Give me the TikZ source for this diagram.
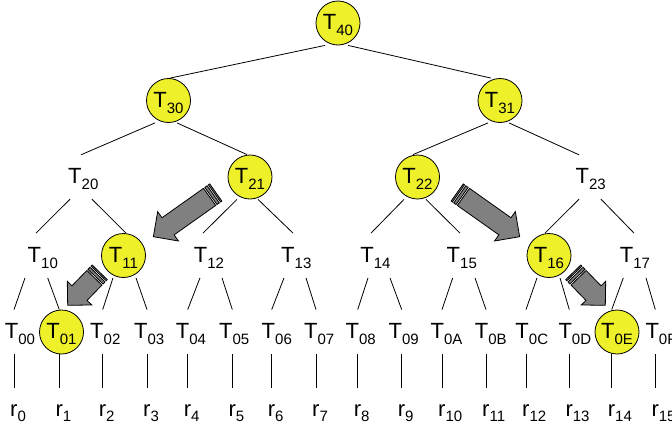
\documentclass[tikz,border=0pt]{standalone}
\usepackage{fontspec}
\setmainfont{Liberation Sans}
\definecolor{nodeyellow}{RGB}{238,240,42}
\definecolor{arrowgray}{RGB}{128,128,128}
\newcommand{\tsb}[1]{T\raisebox{-6pt}{\fontsize{15}{15}\selectfont #1}}
\newcommand{\rsb}[1]{r\raisebox{-5pt}{\fontsize{15}{15}\selectfont #1}}
% striped block arrow: tail x, tail y, angle, length, head width, head length
\newcommand{\sarrow}[6]{%
  \begin{scope}[shift={(#1,#2)}, rotate=#3]
    \filldraw[arrowbox] (0,-10.5) rectangle (1.6,10.5);
    \filldraw[arrowbox] (3.2,-10.5) rectangle (6,10.5);
    \filldraw[arrowbox] (7.6,-10.5) -- ({#4-#6},-10.5) -- ({#4-#6},{-#5/2})
      -- (#4,0) -- ({#4-#6},{#5/2}) -- ({#4-#6},10.5) -- (7.6,10.5) -- cycle;
  \end{scope}}
\tikzset{
  tnode/.style={circle, minimum size=44pt, inner sep=0pt, text height=13pt,
    text depth=0pt, font=\fontsize{22}{22}\selectfont},
  hlnode/.style={tnode, draw=black, line width=0.8pt, fill=nodeyellow},
  edge/.style={line width=0.8pt, black},
  arrowbox/.style={fill=arrowgray, draw=black, line width=0.8pt, line join=miter},
  rlabel/.style={anchor=base west, inner sep=0pt, font=\fontsize{22}{22}\selectfont}
}
\begin{document}
\begin{tikzpicture}[x=1pt, y=-1pt]
\useasboundingbox (0,0) rectangle (672,434);
% upper levels
\node[hlnode] (T40) at (338,23) {\tsb{40}};
\node[hlnode] (T30) at (168.5,100.5) {\tsb{30}};
\node[hlnode] (T31) at (500,100.5) {\tsb{31}};
\node[tnode] (T20) at (83.3,177) {\tsb{20}};
\node[hlnode] (T21) at (250,177) {\tsb{21}};
\node[hlnode] (T22) at (417.5,177) {\tsb{22}};
\node[tnode] (T23) at (590.7,177) {\tsb{23}};
% level 1
\foreach \n/\x/\f/\d in {10/42.8/none/none, 11/123.5/nodeyellow/black,
  12/209/none/none, 13/296.3/none/none, 14/375.5/none/none,
  15/461.8/none/none, 16/549/nodeyellow/black, 17/635/none/none}
  \node[tnode, fill=\f, draw=\d, line width=0.8pt] (T\n) at (\x,255.5) {\tsb{\n}};
% leaves, verticals and r labels
\foreach \n/\x/\v/\r/\f/\d in {00/20/14/0/none/none, 01/61.5/59.3/1/nodeyellow/black,
  02/105.3/102.7/2/none/none, 03/149.2/147/3/none/none, 04/191/187.7/4/none/none,
  05/234.2/232.3/5/none/none, 06/276.8/271.7/6/none/none, 07/319.2/316/7/none/none,
  08/360.7/357.7/8/none/none, 09/403.7/401.7/9/none/none, 0A/446.5/442/10/none/none,
  0B/490.7/486/11/none/none, 0C/531.8/526/12/none/none, 0D/574.8/569.3/13/none/none,
  0E/617/611.7/14/nodeyellow/black, 0F/661/655.3/15/none/none}
{
  \node[tnode, fill=\f, draw=\d, line width=0.8pt] (T\n) at (\x,332) {\tsb{\n}};
  \coordinate (v\n) at (\v,388);
  \node[rlabel] (r\n) at (\v-4,416.7) {\rsb{\r}};
  \draw[edge] (v\n |- T\n.south) -- (v\n);
}
% upper edges
\foreach \p/\a/\c/\b in {40/-13/30/1.5, 40/10/31/-9,
  30/-13.5/20/-2.3, 30/8.5/21/-3, 31/-12/22/-4.5, 31/9/23/-11.7,
  20/-13.3/10/-6.8, 20/8.7/11/2.5, 21/-13/12/-6, 21/8/13/-3.3,
  22/-13.5/14/-4.5, 22/8.5/15/-1.8, 23/-11.7/16/-4, 23/10.3/17/-1}
  \draw[edge] ([xshift=\a pt]T\p.south) -- ([xshift=\b pt]T\c.north);
% level 1 -> leaves
\foreach \p/\a/\c in {10/-17.8/00, 10/4.9/01, 11/-10.5/02, 11/12.5/03,
  12/-9/04, 12/13/05, 13/-12.3/06, 13/9.7/07, 14/-7.5/08, 14/14.5/09,
  15/-9.1/0A, 15/13.2/0B, 16/-12/0C, 16/11/0D, 17/-11.7/0E, 17/11/0F}
  \draw[edge] ([xshift=\a pt]T\p.south) -- (v\c |- T\c.north);
% striped arrows
\sarrow{215.8}{192.5}{215.3}{76.5}{36}{18}
\sarrow{457.2}{192.5}{-35.3}{76.5}{36}{18}
\sarrow{99.7}{272.3}{225.9}{46}{34}{17}
\sarrow{573.3}{272.3}{-45.9}{46}{34}{17}
\end{tikzpicture}
\end{document}
